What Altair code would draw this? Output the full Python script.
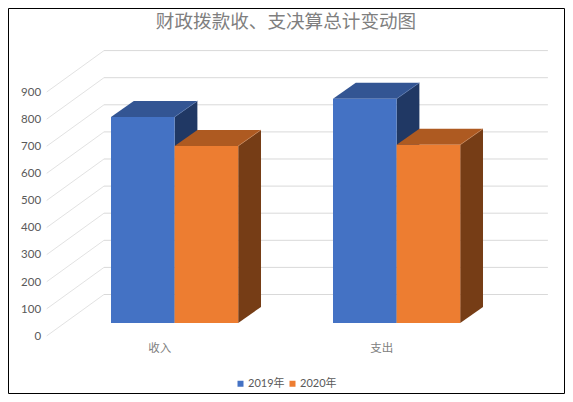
import altair as alt
import pandas as pd

# ---- values ----
categories = ["收入", "支出"]
series = ["2019年", "2020年"]
values_2019 = [760, 827]
values_2020 = [653, 657]
axis_ticks = [0, 100, 200, 300, 400, 500, 600, 700, 800, 900]
title_text = "财政拨款收、支决算总计变动图"

# ---- styling ----
front_colors = ["#4472C4", "#ED7D31"]
top_colors = ["#335593", "#AE5A21"]
side_colors = ["#203864", "#763D16"]
edge_colors = ["#5A78AE", "#C98A5E"]
grid_color = "#D9D9D9"
latin = "Lato"
cjk = "Noto Sans CJK SC"
fonts = f"'{latin}', '{cjk}'"

# ---- layout: x unit = one category, y unit = one data unit ----
W, H = 556, 385
CAT_PX = 222.0        # pixels per category
PX_PER_VALUE = 0.271  # pixels per data unit
X0_PAGE = 111.0       # page x of category 0
Y0_PAGE = 322.9       # page y of value 0 on the bars' front plane
PAGE = 8.0
x_domain = [(PAGE - X0_PAGE) / CAT_PX, (PAGE + W - X0_PAGE) / CAT_PX]
y_domain = [(Y0_PAGE - PAGE - H) / PX_PER_VALUE, (Y0_PAGE - PAGE) / PX_PER_VALUE]
X = dict(scale=alt.Scale(domain=x_domain, nice=False, zero=False), axis=None, title=None)
Y = dict(scale=alt.Scale(domain=y_domain, nice=False, zero=False), axis=None, title=None)

BAR_W = 0.2865
BAR_DX = 0.1027       # bar depth, in categories
BAR_DY = 59.0         # bar depth, in data units
WALL_X0 = -0.0315     # back wall, left edge
WALL_X1 = 1.968       # back wall, right edge
WALL_DY = 104.8       # back wall lift above the bars' baseline
FLOOR_X = -0.2896     # front edge of the floor
FLOOR_DY = -48.0      # front edge of the floor
LABEL_X = -0.315
LABEL_DY = -51.0
CAT_LABEL_SHIFT = 0.22
CAT_LABEL_V = -95

grid_back = pd.DataFrame({
    "x": [WALL_X0 for _ in axis_ticks], "x2": [WALL_X1 for _ in axis_ticks],
    "y": [t + WALL_DY for t in axis_ticks], "y2": [t + WALL_DY for t in axis_ticks]})
grid_floor = pd.DataFrame({
    "x": [FLOOR_X for _ in axis_ticks], "x2": [WALL_X0 for _ in axis_ticks],
    "y": [t + FLOOR_DY for t in axis_ticks], "y2": [t + WALL_DY for t in axis_ticks]})


def rule(df, color, width=1.0):
    return alt.Chart(df).mark_rule(color=color, strokeWidth=width).encode(
        x=alt.X("x:Q", **X), x2="x2:Q", y=alt.Y("y:Q", **Y), y2="y2:Q")


layers = [rule(grid_back, grid_color), rule(grid_floor, "#E2E2E2")]

all_values = [values_2019, values_2020]
for j, name in enumerate(series):
    rows_side, rows_top, rows_front, rows_edge = [], [], [], []
    for i, cat in enumerate(categories):
        v = all_values[j][i]
        left = i + j * BAR_W
        right = left + BAR_W
        rows_front.append(dict(x=left, x2=right, y=v, y2=0, series=name))
        rows_side += [
            dict(cat=cat, x=right, y=v, y2=0),
            dict(cat=cat, x=right + BAR_DX, y=v + BAR_DY, y2=BAR_DY)]
        rows_top += [
            dict(cat=cat, y=v, x=left, x2=right),
            dict(cat=cat, y=v + BAR_DY, x=left + BAR_DX, x2=right + BAR_DX)]
        rows_edge.append(dict(x=right, x2=right + BAR_DX, y=v, y2=v + BAR_DY))
    layers.append(alt.Chart(pd.DataFrame(rows_side)).mark_area(color=side_colors[j], orient="vertical").encode(
        x=alt.X("x:Q", **X), y=alt.Y("y:Q", **Y), y2="y2:Q", detail="cat:N"))
    layers.append(alt.Chart(pd.DataFrame(rows_top)).mark_area(color=top_colors[j], orient="horizontal").encode(
        y=alt.Y("y:Q", **Y), x=alt.X("x:Q", **X), x2="x2:Q", detail="cat:N"))
    layers.append(rule(pd.DataFrame(rows_edge), edge_colors[j], 0.6))
    layers.append(alt.Chart(pd.DataFrame(rows_front)).mark_rect().encode(
        x=alt.X("x:Q", **X), x2="x2:Q", y=alt.Y("y:Q", **Y), y2="y2:Q",
        color=alt.Color("series:N", scale=alt.Scale(domain=series, range=front_colors),
                        legend=alt.Legend(orient="none", legendX=227, legendY=370, direction="horizontal",
                                          title=None, symbolType="square", symbolSize=36,
                                          symbolStrokeWidth=0, labelFont=fonts, labelFontSize=11,
                                          labelColor="#595959", columnPadding=2, labelOffset=2))))

tick_df = pd.DataFrame({"x": [LABEL_X for _ in axis_ticks], "y": [t + LABEL_DY for t in axis_ticks],
                        "t": [str(t) for t in axis_ticks]})
layers.append(alt.Chart(tick_df).mark_text(align="right", baseline="middle", font=latin, fontSize=11.5,
                                           color="#595959").encode(
    x=alt.X("x:Q", **X), y=alt.Y("y:Q", **Y), text="t:N"))

cat_df = pd.DataFrame({"x": [i + CAT_LABEL_SHIFT for i in range(len(categories))],
                       "y": [CAT_LABEL_V for _ in categories], "t": categories})
layers.append(alt.Chart(cat_df).mark_text(align="center", baseline="middle", font=cjk, fontSize=11.5,
                                          color="#808080").encode(
    x=alt.X("x:Q", **X), y=alt.Y("y:Q", **Y), text="t:N"))

chart = alt.layer(*layers).properties(
    width=W, height=H,
    padding={"left": 0, "top": 0, "right": 1, "bottom": 1},
    autosize=alt.AutoSizeParams(type="none"),
    title=alt.TitleParams(title_text, font=cjk, fontSize=18.6, fontWeight="normal", color="#7F7F7F",
                          anchor="middle", baseline="middle", offset=-33),
).configure_view(stroke="black", strokeWidth=1).resolve_scale(color="shared")

chart.save("out.html", embed_options={"renderer": "svg", "actions": False})
